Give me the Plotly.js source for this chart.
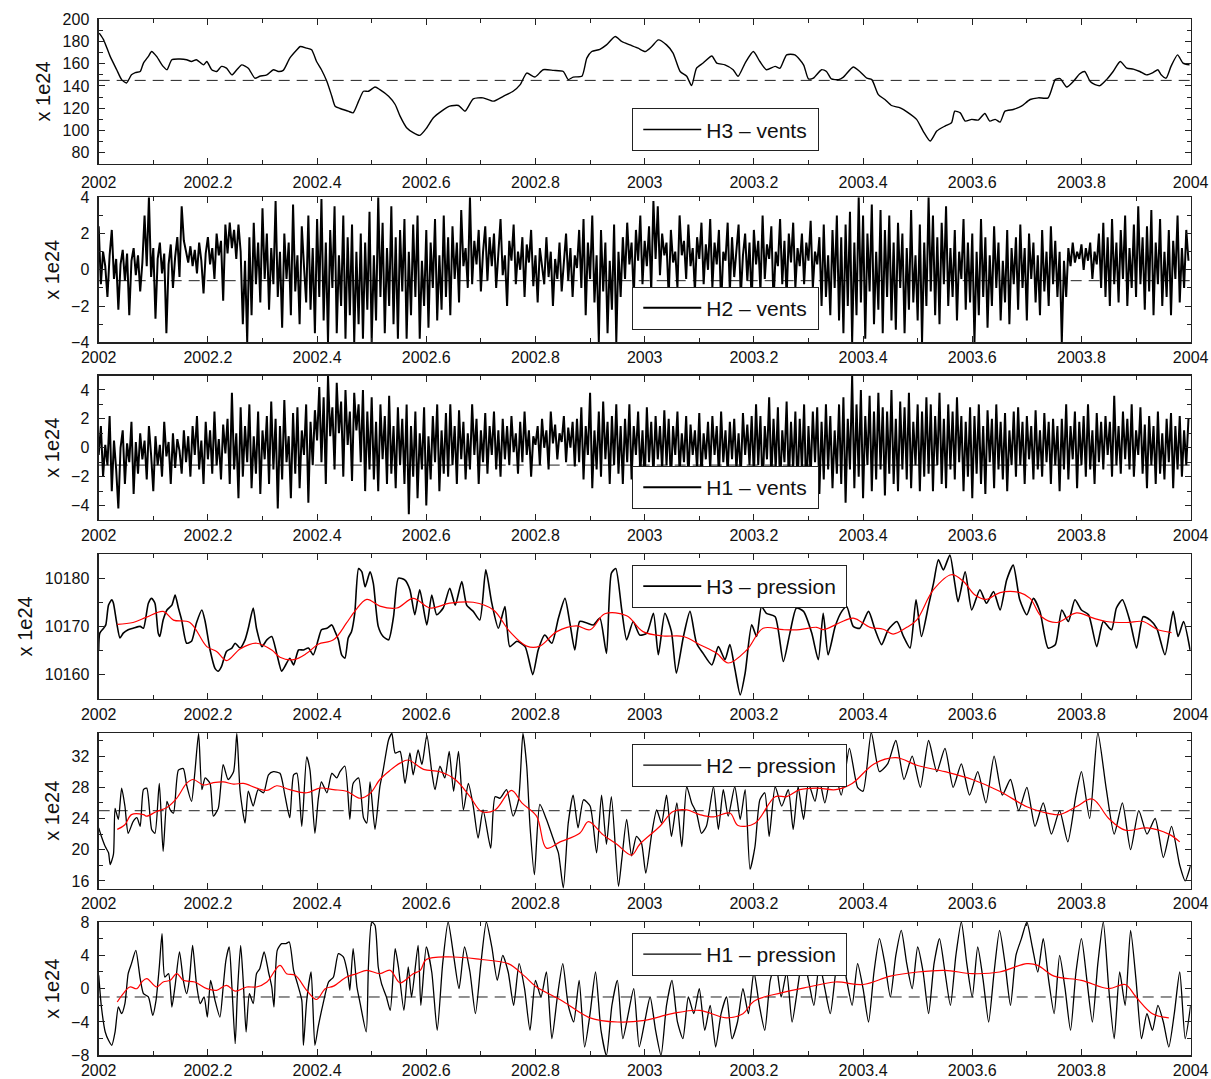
<!DOCTYPE html>
<html>
<head>
<meta charset="utf-8">
<script src="https://cdn.plot.ly/plotly-3.0.1.min.js"></script>
<style>html,body{margin:0;padding:0;background:#fff;}#chart{width:1211px;height:1079px;}</style>
</head>
<body>
<div id="chart"></div>
<script>
// ---------- tick labels ----------
const yearTicks = [2002, 2002.2, 2002.4, 2002.6, 2002.8, 2003, 2003.2, 2003.4, 2003.6, 2003.8, 2004];
const yearTickLabels = ['2002', '2002.2', '2002.4', '2002.6', '2002.8', '2003', '2003.2', '2003.4', '2003.6', '2003.8', '2004'];
const yTitle = 'x 1e24';

// ---------- panel 1 : H3 - vents ----------
const h3VentsYears = [2002.001,2002.009,2002.021,2002.033,2002.042,2002.051,2002.060,2002.067,2002.076,2002.082,2002.091,2002.097,2002.106,2002.118,2002.125,2002.134,2002.149,2002.161,2002.170,2002.179,2002.192,2002.198,2002.207,2002.216,2002.225,2002.234,2002.244,2002.253,2002.262,2002.274,2002.286,2002.295,2002.308,2002.320,2002.329,2002.338,2002.350,2002.363,2002.369,2002.381,2002.390,2002.399,2002.408,2002.418,2002.427,2002.433,2002.442,2002.457,2002.466,2002.476,2002.485,2002.494,2002.506,2002.515,2002.531,2002.543,2002.552,2002.564,2002.576,2002.588,2002.601,2002.613,2002.628,2002.643,2002.659,2002.671,2002.686,2002.704,2002.723,2002.741,2002.759,2002.772,2002.784,2002.799,2002.814,2002.833,2002.851,2002.860,2002.869,2002.885,2002.894,2002.903,2002.918,2002.930,2002.946,2002.958,2002.973,2002.988,2003.001,2003.013,2003.025,2003.040,2003.052,2003.065,2003.077,2003.086,2003.095,2003.107,2003.123,2003.132,2003.147,2003.162,2003.171,2003.184,2003.199,2003.211,2003.223,2003.239,2003.248,2003.260,2003.275,2003.291,2003.300,2003.309,2003.324,2003.333,2003.342,2003.355,2003.364,2003.382,2003.394,2003.407,2003.416,2003.428,2003.440,2003.452,2003.468,2003.483,2003.498,2003.510,2003.523,2003.535,2003.550,2003.562,2003.568,2003.578,2003.587,2003.599,2003.611,2003.623,2003.632,2003.642,2003.651,2003.660,2003.675,2003.690,2003.706,2003.721,2003.739,2003.752,2003.761,2003.773,2003.785,2003.797,2003.806,2003.816,2003.825,2003.834,2003.846,2003.858,2003.871,2003.883,2003.895,2003.907,2003.919,2003.931,2003.940,2003.946,2003.955,2003.964,2003.976,2003.986,2003.998];
const h3VentsValues = [187.5,181.5,166.6,154.6,145.7,142.7,150.0,152.0,153.0,160.6,166.6,171.0,166.6,157.6,154.6,163.6,164.2,163.6,162.0,163.6,159.0,162.0,154.6,153.0,157.6,156.0,150.0,154.6,159.0,156.0,147.0,148.7,150.0,154.6,153.0,154.0,165.0,172.5,175.5,174.0,172.5,162.0,154.6,144.0,130.7,121.8,119.7,117.3,115.8,126.3,135.2,135.2,139.0,136.7,130.7,123.3,112.8,102.4,98.0,95.5,102.4,111.3,117.3,121.8,122.4,117.3,128.4,129.3,126.3,130.7,135.2,141.2,151.6,148.0,154.6,154.0,153.0,145.7,148.0,148.7,165.0,171.0,173.0,177.0,184.5,180.0,177.0,174.0,171.0,175.5,181.5,177.0,169.6,153.0,148.7,140.3,156.0,160.6,167.0,160.6,159.0,154.6,148.7,160.6,171.0,162.0,154.6,157.6,156.0,168.0,168.0,159.0,146.3,147.0,154.6,153.0,146.3,145.7,148.0,157.0,153.0,147.0,145.7,132.2,127.8,122.4,120.3,115.8,109.9,99.4,90.4,99.4,103.9,106.9,117.3,115.8,108.4,109.9,109.3,115.2,108.4,109.9,107.5,117.3,118.8,121.8,127.8,129.3,129.3,145.7,146.6,139.0,144.0,151.0,153.0,144.0,141.2,140.3,145.7,153.0,162.0,156.0,155.2,153.0,150.0,152.0,154.6,150.0,147.0,157.6,168.0,160.6,159.0];
const h3VentsLevel = 145;

// ---------- panels 2 and 3 : regular sampling ----------
const ventStart = 2002;
const ventStep = 0.004;
const h2VentsValues = [
2.4,-0.8,1.0,0.2,-1.5,0.8,2.2,-0.5,0.6,-2.2,0.3,1.1,-0.6,0.9,-2.5,0.5,1.2,-0.3,0.8,-1.2,
0.4,3.0,0.2,4.0,-0.4,1.2,-2.7,0.6,1.5,-0.2,0.9,-3.5,0.3,1.4,-1.0,0.7,1.8,-0.4,3.5,1.6,
1.0,0.4,1.3,0.2,1.1,-0.2,1.5,0.5,-1.3,0.9,1.8,0.3,1.2,-0.5,2.0,0.8,1.6,-1.7,2.5,0.9,
2.6,1.2,2.2,0.6,2.5,1.0,-3.0,0.5,-4.0,1.8,-2.5,2.6,-0.8,1.5,-1.8,3.4,-0.5,2.0,-2.2,1.2,
-0.8,3.8,-1.5,1.0,-3.2,2.0,-0.5,1.5,-2.5,3.6,-1.2,0.8,-3.0,2.4,0.2,-1.8,3.0,-2.2,1.2,-3.5,
2.8,-1.5,3.9,-2.8,1.5,-4.0,2.2,-1.0,3.5,-3.5,0.8,-2.0,3.0,-3.8,1.8,-2.5,2.5,-4.0,1.0,-3.0,
2.0,-3.8,1.5,-2.2,3.2,-4.0,0.8,-2.8,4.0,-1.5,2.6,-3.5,1.2,-2.0,3.5,-3.0,1.8,-3.8,2.2,-1.2,
2.8,-3.8,1.0,-2.5,2.5,-1.5,3.0,-3.8,0.5,-2.0,2.2,-3.2,1.5,-1.0,2.8,-2.8,0.8,-2.2,3.0,-1.5,
1.8,-2.5,2.4,-0.5,1.5,-1.8,3.3,0.2,1.2,-1.0,4.0,-0.8,1.6,0.3,2.2,-1.2,1.0,2.4,-0.6,1.8,
0.2,2.0,-1.0,1.2,2.8,-0.3,0.8,-2.0,1.6,0.5,2.5,-0.8,1.0,0.0,1.8,-1.5,1.4,0.4,2.2,-0.9,
0.8,-1.8,1.2,0.2,-0.8,1.8,-0.4,1.0,-2.0,0.6,-0.5,1.5,-1.2,0.4,2.0,-0.6,1.2,-1.5,0.8,0.1,
2.2,-1.0,2.8,-2.5,1.5,-0.5,3.0,-1.8,0.8,-4.0,2.2,-1.2,1.5,-3.5,0.5,-2.2,2.5,-4.0,1.0,-1.5,
1.8,-0.5,2.6,0.3,1.5,-1.5,2.2,0.5,3.0,-0.8,1.6,0.2,2.4,-1.2,3.8,0.6,3.5,-0.3,2.0,0.8,
1.5,-1.5,2.2,0.4,1.0,-1.0,3.0,0.8,1.6,-0.5,2.5,0.2,1.2,-1.2,1.8,0.6,2.6,-0.8,1.4,0.0,
2.8,-1.0,1.5,0.3,2.2,-2.0,1.0,0.5,2.6,-1.2,1.8,-0.4,1.2,2.5,-1.5,0.8,2.0,-0.6,1.5,-1.8,
2.2,0.3,1.6,-1.2,3.0,-0.5,1.4,0.6,2.4,-1.8,1.0,0.2,2.8,-0.8,1.6,-1.5,2.0,0.4,2.6,-1.0,
1.2,0.2,2.0,-0.8,1.5,0.5,2.7,-1.0,1.0,0.3,1.8,-2.0,2.5,-1.5,0.8,-2.5,2.2,-1.0,3.0,-2.8,
1.8,-3.5,2.5,-2.0,3.2,-4.0,1.5,-2.5,4.0,-1.8,3.0,-3.8,2.0,-1.2,3.6,-3.0,1.0,-2.2,3.3,-3.5,
2.2,-1.5,3.0,-2.8,1.5,-3.3,2.6,-1.0,2.0,-3.5,1.2,-2.2,3.3,-1.8,0.8,-2.8,2.5,-4.0,1.5,-2.0,
4.0,-1.2,3.0,-2.5,1.8,-3.0,2.6,-0.8,3.5,-2.0,1.2,-1.5,2.2,-2.8,1.0,-0.5,2.8,-2.2,1.5,-1.8,
2.0,-4.0,1.0,-2.5,2.8,-1.5,1.8,-3.2,0.8,-2.0,2.4,-1.0,1.5,-2.8,0.5,-1.8,2.2,-3.0,1.2,-0.8,
1.8,-2.2,2.5,-1.0,1.2,-2.8,2.0,-0.5,1.5,-1.8,0.8,-2.5,2.2,-1.2,1.0,-2.0,2.4,-0.8,1.6,-1.5,
1.0,-4.0,0.5,-1.5,1.2,0.2,1.5,0.4,1.0,0.6,1.4,0.0,1.2,0.5,1.5,-0.5,1.0,0.3,2.0,-1.0,
2.6,-1.5,1.8,-2.0,2.8,-0.8,1.5,-1.8,2.2,-0.5,3.0,-2.0,1.2,-1.0,2.5,-1.5,3.5,-0.8,1.8,-2.2,
2.4,-1.2,3.3,-2.5,1.5,-0.8,2.8,-2.0,1.0,-1.5,2.2,-2.5,1.6,-0.5,3.0,-1.8,1.2,-1.0,2.2,0.5];
const h2VentsLevel = -0.6;

const h1VentsValues = [
-0.5,1.5,-2.0,0.2,-1.2,2.2,-3.0,0.5,-1.5,-4.2,0.0,1.2,-2.5,0.3,-1.0,1.8,-3.2,0.4,-1.8,1.0,
-0.8,0.5,-2.2,1.5,-0.5,-3.0,0.8,-1.2,0.2,-2.0,1.8,-0.6,0.4,-2.5,1.0,-1.4,0.6,-0.2,-1.8,1.2,
-1.0,0.8,-2.0,1.5,-0.5,2.2,-1.5,0.5,-2.5,1.8,-0.8,1.2,-1.8,2.5,-1.2,0.6,-2.2,1.6,-0.4,2.0,
-2.5,3.8,-1.5,1.0,-3.5,2.8,-2.0,1.5,-1.0,3.0,-2.8,0.8,-1.8,2.5,-3.2,1.2,-0.8,2.2,-2.5,3.2,
-1.5,2.0,-4.2,1.5,-2.2,3.3,-1.0,0.8,-3.5,2.4,-1.8,2.8,-2.8,1.2,-0.5,3.0,-3.8,1.8,-1.2,2.6,
0.5,4.2,-1.0,3.5,-2.5,5.0,0.8,2.8,-1.5,4.5,1.0,3.2,-2.0,4.0,0.2,2.5,-2.3,3.8,1.2,3.0,
-1.0,4.0,-3.0,2.5,-1.5,3.5,-2.2,1.8,-3.0,3.0,-0.8,2.2,-2.5,3.6,-1.8,1.5,-2.8,2.8,-1.2,2.0,
-2.5,3.0,-4.6,1.5,-2.0,2.5,-3.5,1.0,-1.5,2.8,-4.0,0.8,-2.2,2.2,-1.0,3.0,-3.0,1.2,-1.8,2.4,
-2.0,3.0,-1.2,1.5,-2.5,2.6,-0.8,1.8,-2.2,1.0,-1.5,3.0,-0.5,2.0,-2.5,1.2,-1.0,2.4,-1.8,1.5,
-0.5,2.5,-1.5,1.2,-2.0,2.0,-0.8,1.5,-1.2,2.2,-0.3,1.0,-1.8,1.8,-1.0,2.5,-0.5,1.2,-2.0,0.8,
0.2,1.5,-1.2,2.0,0.0,1.2,-1.5,2.5,0.3,1.6,-0.8,1.0,0.4,2.2,-1.0,1.4,0.0,1.8,-1.3,2.0,
-1.0,2.8,-2.2,1.5,-0.5,3.8,-2.8,1.2,-1.5,2.5,-2.0,3.2,-0.8,1.8,-2.5,2.2,-1.2,3.0,-1.8,1.5,
-2.5,2.0,-1.0,3.0,-2.2,1.5,-0.5,2.5,-1.8,1.2,-2.5,2.8,-1.0,1.8,-2.0,2.2,-0.8,1.5,-1.5,2.6,
-1.2,2.0,-2.5,1.5,-0.5,2.5,-1.8,1.0,-1.0,2.2,-2.2,1.6,-0.5,1.2,-1.5,2.4,-2.0,1.0,-0.8,1.8,
-1.5,2.2,-0.5,1.5,-2.0,2.5,-1.0,1.2,-1.8,1.8,-0.8,2.0,-1.5,1.0,-2.0,2.4,-0.5,1.6,-1.2,2.2,
-2.0,3.0,-1.2,2.2,-3.0,1.5,-0.8,3.5,-2.2,2.0,-1.5,2.8,-2.8,1.2,-1.0,3.2,-2.5,1.8,-1.5,2.5,
-3.0,2.0,-1.5,3.0,-3.5,1.5,-2.0,2.5,-1.0,2.8,-3.2,1.8,-2.2,3.0,-1.5,2.2,-2.8,1.2,-1.8,3.0,
-2.5,3.5,-3.8,2.0,-1.5,5.0,-2.8,3.0,-2.0,4.0,-3.5,2.2,-1.2,3.6,-3.0,2.5,-2.2,3.8,-1.5,2.8,
-3.3,2.5,-1.8,4.0,-2.5,2.0,-3.0,3.2,-1.5,2.8,-2.2,3.8,-2.8,1.8,-1.2,3.0,-3.0,2.5,-2.0,3.5,
-1.8,3.0,-3.0,2.2,-1.2,3.8,-2.5,2.0,-2.8,3.0,-1.5,2.5,-2.2,3.5,-1.0,2.2,-3.0,1.8,-2.0,2.8,
-3.5,2.2,-1.8,3.0,-2.5,1.5,-3.2,2.6,-1.0,2.0,-2.8,3.0,-1.5,1.8,-2.2,2.4,-3.0,1.2,-1.2,2.5,
-2.0,2.8,-1.2,1.8,-2.5,2.2,-0.8,1.5,-2.2,2.6,-1.5,1.2,-2.0,2.4,-1.0,1.8,-2.5,2.0,-1.2,1.5,
-3.0,2.0,-1.5,3.0,-2.2,1.5,-0.8,2.5,-2.8,1.8,-1.2,2.2,-2.0,3.0,-1.5,1.2,-2.5,2.4,-1.0,1.8,
-1.5,2.2,-0.5,1.8,-2.0,3.6,-1.2,1.5,-1.8,2.5,-0.8,2.0,-1.5,3.0,-2.0,1.2,-0.5,2.8,-1.8,1.6,
-2.8,2.2,-1.2,1.5,-2.5,2.5,-1.8,1.0,-2.2,2.0,-1.0,2.4,-2.8,1.5,-1.5,2.2,-2.0,1.2,-1.2,2.0];
const h1VentsLevel = -1.2;

// ---------- panel 4 : H3 - pression ----------
const h3PressYears = [2002.000,2002.002,2002.009,2002.013,2002.018,2002.024,2002.027,2002.033,2002.039,2002.045,2002.054,2002.063,2002.076,2002.082,2002.091,2002.097,2002.103,2002.109,2002.112,2002.118,2002.125,2002.134,2002.140,2002.146,2002.152,2002.161,2002.170,2002.179,2002.189,2002.195,2002.204,2002.213,2002.219,2002.225,2002.234,2002.244,2002.250,2002.259,2002.268,2002.274,2002.283,2002.289,2002.299,2002.308,2002.317,2002.326,2002.335,2002.341,2002.350,2002.357,2002.366,2002.375,2002.384,2002.393,2002.402,2002.408,2002.418,2002.427,2002.433,2002.439,2002.445,2002.451,2002.457,2002.463,2002.469,2002.476,2002.482,2002.488,2002.497,2002.503,2002.512,2002.521,2002.531,2002.540,2002.549,2002.561,2002.570,2002.579,2002.588,2002.601,2002.610,2002.619,2002.631,2002.643,2002.653,2002.665,2002.674,2002.686,2002.698,2002.709,2002.720,2002.732,2002.744,2002.753,2002.766,2002.781,2002.795,2002.805,2002.817,2002.830,2002.842,2002.854,2002.863,2002.872,2002.881,2002.894,2002.906,2002.918,2002.930,2002.939,2002.947,2002.958,2002.967,2002.979,2002.991,2003.004,2003.016,2003.025,2003.037,2003.049,2003.058,2003.071,2003.083,2003.095,2003.107,2003.123,2003.135,2003.147,2003.156,2003.165,2003.175,2003.184,2003.196,2003.205,2003.214,2003.223,2003.239,2003.254,2003.266,2003.278,2003.291,2003.306,2003.318,2003.327,2003.336,2003.349,2003.361,2003.370,2003.382,2003.394,2003.410,2003.422,2003.434,2003.446,2003.462,2003.474,2003.486,2003.497,2003.507,2003.520,2003.529,2003.538,2003.547,2003.559,2003.568,2003.574,2003.587,2003.599,2003.614,2003.626,2003.639,2003.651,2003.663,2003.675,2003.687,2003.700,2003.712,2003.724,2003.739,2003.752,2003.764,2003.776,2003.788,2003.800,2003.813,2003.828,2003.840,2003.855,2003.864,2003.875,2003.889,2003.901,2003.913,2003.926,2003.938,2003.953,2003.968,2003.977,2003.987,2003.999];
const h3PressValues = [10165.1,10168.6,10169.6,10170.3,10174.4,10175.5,10174.8,10170.7,10167.6,10168.6,10169.3,10169.6,10170.0,10169.6,10174.8,10175.8,10174.8,10168.6,10167.9,10171.3,10173.4,10174.4,10176.5,10173.8,10171.3,10166.5,10166.9,10170.7,10173.4,10171.0,10165.1,10161.3,10160.7,10161.7,10164.8,10165.5,10166.5,10165.5,10167.2,10169.6,10173.8,10169.6,10165.8,10167.2,10167.9,10164.4,10160.7,10161.7,10163.4,10162.0,10165.1,10165.1,10165.5,10164.1,10167.2,10169.3,10169.6,10170.3,10168.9,10167.2,10164.1,10163.4,10167.6,10168.9,10172.7,10182.0,10181.3,10178.2,10181.3,10178.9,10170.0,10167.9,10167.2,10172.0,10180.0,10179.6,10177.6,10172.4,10177.6,10170.3,10176.5,10172.4,10173.8,10177.9,10174.4,10179.3,10174.4,10173.1,10171.3,10181.7,10174.8,10169.6,10174.1,10165.8,10166.9,10165.8,10160.0,10165.1,10168.2,10166.5,10171.7,10175.8,10170.7,10165.1,10171.0,10170.7,10170.3,10171.7,10164.4,10181.0,10182.0,10173.4,10167.2,10171.0,10168.2,10168.6,10172.7,10164.1,10172.7,10168.9,10160.3,10167.9,10173.1,10166.5,10164.4,10162.0,10165.8,10163.1,10166.2,10161.3,10155.8,10160.3,10170.3,10167.9,10174.1,10172.7,10172.0,10162.7,10168.6,10173.8,10173.1,10168.6,10163.1,10172.7,10164.1,10170.0,10173.1,10174.1,10170.0,10169.6,10173.1,10169.3,10166.2,10169.3,10171.0,10167.9,10165.5,10175.5,10167.9,10174.4,10178.9,10183.8,10181.7,10184.8,10178.9,10175.1,10181.3,10173.4,10177.6,10174.8,10177.2,10173.4,10179.6,10182.7,10175.5,10172.4,10175.8,10173.1,10165.5,10166.2,10173.4,10171.0,10175.5,10173.4,10172.4,10165.8,10171.0,10169.3,10173.8,10175.5,10171.0,10165.5,10172.0,10171.3,10169.6,10164.1,10173.1,10167.9,10171.0,10165.1];
const h3PressSmoothYears = [2002.034,2002.063,2002.088,2002.118,2002.137,2002.167,2002.198,2002.216,2002.234,2002.259,2002.289,2002.317,2002.332,2002.357,2002.381,2002.402,2002.430,2002.454,2002.469,2002.491,2002.515,2002.546,2002.576,2002.607,2002.643,2002.686,2002.723,2002.753,2002.784,2002.808,2002.839,2002.875,2002.900,2002.927,2002.967,2002.997,2003.034,2003.071,2003.101,2003.132,2003.153,2003.187,2003.217,2003.254,2003.284,2003.315,2003.327,2003.358,2003.382,2003.413,2003.437,2003.455,2003.480,2003.498,2003.529,2003.562,2003.584,2003.605,2003.626,2003.651,2003.687,2003.706,2003.727,2003.755,2003.791,2003.822,2003.846,2003.883,2003.913,2003.938,2003.965];
const h3PressSmoothValues = [10170.4,10170.8,10171.9,10173.1,10171.3,10170.8,10165.8,10164.8,10162.9,10165.3,10166.5,10165.1,10163.6,10163.1,10164.4,10166.3,10167.2,10170.7,10173.1,10175.6,10174.2,10173.8,10175.8,10173.8,10174.8,10175.0,10173.4,10168.9,10165.9,10165.9,10168.9,10170.1,10169.3,10172.6,10172.2,10168.9,10168.0,10167.9,10166.2,10164.4,10162.4,10165.1,10169.6,10169.3,10169.3,10169.8,10169.3,10170.8,10171.7,10169.8,10169.4,10168.4,10169.8,10171.3,10177.6,10180.7,10179.3,10176.5,10175.6,10177.0,10177.0,10175.8,10172.0,10170.8,10172.8,10171.7,10171.0,10170.8,10171.0,10169.4,10168.7];

// ---------- panel 5 : H2 - pression ----------
const h2PressYears = [2002.000,2002.005,2002.012,2002.018,2002.021,2002.027,2002.030,2002.036,2002.042,2002.048,2002.054,2002.063,2002.070,2002.076,2002.082,2002.088,2002.097,2002.103,2002.111,2002.118,2002.125,2002.131,2002.137,2002.146,2002.155,2002.161,2002.170,2002.176,2002.183,2002.189,2002.195,2002.204,2002.210,2002.219,2002.228,2002.237,2002.247,2002.253,2002.259,2002.268,2002.274,2002.283,2002.292,2002.302,2002.311,2002.320,2002.332,2002.341,2002.350,2002.357,2002.363,2002.372,2002.381,2002.387,2002.396,2002.402,2002.408,2002.418,2002.427,2002.436,2002.442,2002.451,2002.460,2002.466,2002.476,2002.485,2002.491,2002.497,2002.506,2002.515,2002.521,2002.531,2002.537,2002.543,2002.552,2002.561,2002.570,2002.576,2002.585,2002.592,2002.601,2002.610,2002.616,2002.625,2002.634,2002.642,2002.650,2002.659,2002.668,2002.677,2002.686,2002.695,2002.704,2002.718,2002.726,2002.735,2002.747,2002.759,2002.769,2002.777,2002.784,2002.790,2002.798,2002.808,2002.820,2002.833,2002.842,2002.851,2002.860,2002.869,2002.878,2002.888,2002.900,2002.912,2002.921,2002.930,2002.939,2002.952,2002.958,2002.967,2002.976,2002.985,2002.994,2003.002,2003.013,2003.022,2003.031,2003.040,2003.049,2003.059,2003.068,2003.077,2003.086,2003.095,2003.104,2003.113,2003.126,2003.135,2003.144,2003.153,2003.165,2003.175,2003.184,2003.193,2003.202,2003.211,2003.220,2003.228,2003.239,2003.251,2003.263,2003.272,2003.281,2003.291,2003.300,2003.312,2003.320,2003.330,2003.345,2003.360,2003.375,2003.390,2003.400,2003.415,2003.430,2003.445,2003.460,2003.475,2003.490,2003.505,2003.520,2003.535,2003.550,2003.565,2003.580,2003.595,2003.610,2003.625,2003.640,2003.655,2003.670,2003.685,2003.700,2003.715,2003.730,2003.745,2003.760,2003.775,2003.790,2003.800,2003.815,2003.830,2003.845,2003.860,2003.875,2003.890,2003.905,2003.920,2003.935,2003.950,2003.965,2003.980,2003.990,2004.000];
const h2PressValues = [22.8,21.7,20.4,19.6,18.1,19.4,25.3,23.9,27.9,25.6,22.1,23.6,24.1,23.0,27.7,27.9,22.6,22.1,28.5,19.8,26.2,25.1,24.7,30.2,30.4,28.3,26.2,29.8,34.9,27.7,29.2,28.5,24.3,25.3,30.9,29.0,30.0,34.9,27.5,23.4,27.5,25.6,27.7,27.3,29.6,30.0,29.8,27.0,24.1,29.6,29.8,23.0,31.9,30.2,22.1,26.4,28.7,27.3,29.8,29.2,30.0,30.7,23.9,28.5,29.2,24.1,23.4,28.7,22.6,28.1,30.2,34.1,34.9,32.4,32.6,28.5,32.4,29.6,32.8,30.9,34.7,30.0,27.7,30.7,29.2,32.6,27.5,32.6,25.1,28.5,25.6,21.5,25.1,20.2,26.8,26.6,27.7,24.3,26.4,34.9,30.7,23.0,16.8,25.8,23.9,21.3,19.6,15.1,23.4,27.0,22.8,26.4,25.6,19.6,27.0,20.7,26.8,15.3,18.7,23.9,19.2,21.7,20.9,17.0,22.1,25.1,23.4,27.0,21.7,26.0,20.4,28.1,26.0,24.7,22.1,23.0,28.1,22.6,27.7,24.3,28.1,23.9,27.7,17.5,20.4,26.4,27.3,21.7,28.1,25.6,27.7,22.6,28.1,23.9,28.5,26.2,29.0,26.0,31.0,27.0,33.0,28.0,27.5,35.0,30.0,31.0,34.0,29.0,32.0,28.0,34.0,30.0,33.0,28.0,31.0,27.0,30.0,26.0,32.0,27.0,29.0,25.0,28.0,23.0,26.0,22.0,25.0,21.0,27.0,30.0,24.0,35.0,28.0,22.0,26.0,20.0,25.0,22.0,24.0,19.0,23.0,18.0,16.0,18.0];
const h2PressSmoothYears = [2002.034,2002.048,2002.060,2002.082,2002.088,2002.106,2002.125,2002.143,2002.161,2002.173,2002.192,2002.210,2002.228,2002.247,2002.265,2002.289,2002.308,2002.326,2002.350,2002.381,2002.405,2002.430,2002.454,2002.479,2002.497,2002.515,2002.534,2002.552,2002.567,2002.595,2002.625,2002.653,2002.680,2002.701,2002.726,2002.756,2002.775,2002.802,2002.820,2002.845,2002.881,2002.897,2002.924,2002.949,2002.976,2002.991,2003.028,2003.052,2003.077,2003.101,2003.126,2003.156,2003.171,2003.202,2003.239,2003.260,2003.284,2003.315,2003.350,2003.380,2003.420,2003.460,2003.500,2003.550,2003.600,2003.650,2003.700,2003.730,2003.760,2003.790,2003.820,2003.850,2003.880,2003.920,2003.960,2003.980];
const h2PressSmoothValues = [22.6,23.2,24.5,24.5,24.3,24.9,25.4,26.6,28.5,29.0,28.3,28.6,28.7,28.4,28.5,27.9,27.6,28.2,27.7,27.3,27.9,27.7,27.5,26.6,27.2,29.0,30.2,31.1,31.5,30.3,30.0,29.0,26.8,24.9,25.1,27.6,26.0,24.3,20.2,21.0,22.1,23.6,21.9,20.7,19.3,20.7,23.0,24.9,25.1,24.5,24.2,24.7,23.1,23.4,26.8,26.8,27.7,27.9,27.7,28.5,31.0,31.8,30.8,30.0,29.0,27.5,25.5,24.8,24.5,25.5,26.5,24.0,22.5,22.8,22.0,21.0];
const h2PressLevel = 25;

// ---------- panel 6 : H1 - pression ----------
const h1PressYears = [2002.000,2002.005,2002.012,2002.018,2002.024,2002.030,2002.036,2002.042,2002.048,2002.054,2002.060,2002.068,2002.076,2002.082,2002.091,2002.099,2002.105,2002.111,2002.116,2002.121,2002.128,2002.134,2002.140,2002.148,2002.155,2002.161,2002.166,2002.172,2002.179,2002.186,2002.193,2002.199,2002.205,2002.213,2002.222,2002.228,2002.233,2002.239,2002.244,2002.250,2002.254,2002.260,2002.265,2002.270,2002.276,2002.283,2002.289,2002.295,2002.303,2002.311,2002.317,2002.321,2002.327,2002.335,2002.343,2002.349,2002.357,2002.364,2002.372,2002.375,2002.381,2002.389,2002.396,2002.402,2002.411,2002.421,2002.430,2002.439,2002.448,2002.457,2002.460,2002.466,2002.473,2002.479,2002.490,2002.494,2002.500,2002.506,2002.512,2002.518,2002.527,2002.534,2002.543,2002.549,2002.559,2002.567,2002.573,2002.585,2002.59,2002.60,2002.61,2002.62,2002.63,2002.64,2002.65,2002.66,2002.67,2002.68,2002.69,2002.70,2002.71,2002.72,2002.73,2002.74,2002.75,2002.76,2002.77,2002.78,2002.79,2002.80,2002.81,2002.82,2002.83,2002.84,2002.85,2002.86,2002.87,2002.88,2002.89,2002.90,2002.91,2002.92,2002.93,2002.94,2002.95,2002.96,2002.97,2002.98,2002.99,2003.00,2003.01,2003.02,2003.03,2003.04,2003.05,2003.06,2003.07,2003.08,2003.09,2003.10,2003.11,2003.12,2003.13,2003.14,2003.15,2003.16,2003.17,2003.18,2003.19,2003.20,2003.21,2003.22,2003.23,2003.24,2003.25,2003.26,2003.27,2003.28,2003.29,2003.30,2003.31,2003.32,2003.33,2003.34,2003.35,2003.36,2003.37,2003.38,2003.39,2003.40,2003.41,2003.42,2003.43,2003.44,2003.45,2003.46,2003.47,2003.48,2003.49,2003.50,2003.51,2003.52,2003.53,2003.54,2003.55,2003.56,2003.57,2003.58,2003.59,2003.60,2003.61,2003.62,2003.63,2003.64,2003.65,2003.66,2003.67,2003.68,2003.69,2003.70,2003.71,2003.72,2003.73,2003.74,2003.75,2003.76,2003.77,2003.78,2003.79,2003.80,2003.81,2003.82,2003.83,2003.84,2003.85,2003.86,2003.87,2003.88,2003.89,2003.90,2003.91,2003.92,2003.93,2003.94,2003.95,2003.96,2003.97,2003.98,2003.99,2004.00];
const h1PressValues = [1.6,-2.2,-5.2,-6.2,-6.8,-5.2,-2.2,-3.0,-1.8,1.8,3.0,4.6,1.2,-0.6,-1.0,-3.2,-1.4,2.6,6.6,1.4,1.8,-2.2,0.4,4.4,1.0,-0.6,1.0,5.2,0.6,-1.8,-1.0,-3.4,1.0,-1.4,-3.4,0.2,3.4,5.0,0.2,-6.6,-0.6,5.2,0.6,-5.2,-0.6,-1.8,1.8,2.4,4.4,2.0,0.2,-2.2,4.6,5.4,5.4,5.6,2.2,0.6,-1.4,-6.8,-1.4,2.0,-6.8,-4.6,-1.8,0.8,1.4,4.2,3.8,1.4,-0.2,4.8,0.2,-1.8,-5.2,2.6,8.0,7.6,2.6,0.6,-1.0,-2.6,4.8,2.6,-2.6,2.6,-1.0,5.2,-2,5,2,-5,3,8,4,0,5,2,-3,3,8,5,1,4,2,-2,3,0,-5,1,-1,2,-6,-1,3,-2,-4,1,-7,-3,2,-5,-8,-2,1,-6,-3,0,-7,-4,-1,-5,-8,-2,1,-4,-6,-1,-3,0,-5,-2,-7,-3,-1,-6,-4,0,-3,2,-2,-5,1,3,-1,2,-4,0,4,1,-2,3,0,-3,2,5,1,-2,3,0,-4,2,6,3,-1,4,7,3,0,5,2,-3,3,6,2,-2,4,8,3,-1,5,1,-4,2,7,3,-2,4,6,8,5,2,6,1,-3,4,0,-5,2,6,1,-4,3,8,0,-6,2,-2,7,1,-6,-3,-5,-2,-4,-7,-3,2,-6,-2];
const h1PressSmoothYears = [2002.034,2002.045,2002.057,2002.070,2002.079,2002.088,2002.106,2002.118,2002.131,2002.143,2002.155,2002.176,2002.198,2002.216,2002.234,2002.250,2002.271,2002.289,2002.308,2002.332,2002.344,2002.360,2002.381,2002.399,2002.415,2002.430,2002.454,2002.473,2002.491,2002.515,2002.534,2002.552,2002.576,2002.589,2002.600,2002.650,2002.700,2002.750,2002.780,2002.800,2002.850,2002.900,2002.950,2003.000,2003.050,2003.100,2003.150,2003.180,2003.200,2003.250,2003.300,2003.350,2003.400,2003.450,2003.500,2003.550,2003.600,2003.650,2003.700,2003.720,2003.750,2003.800,2003.850,2003.880,2003.900,2003.930,2003.960];
const h1PressSmoothValues = [-1.6,-0.6,0.2,0.0,0.8,1.2,0.2,0.8,1.0,1.8,1.0,0.8,0.0,-0.2,0.4,-0.3,0.2,0.2,0.8,2.8,1.8,1.6,-0.2,-1.3,0.0,0.3,1.4,1.8,2.2,1.8,2.2,0.7,1.8,2.2,3.5,3.8,3.5,3.0,1.5,0.3,-1.5,-3.5,-4.0,-3.8,-3.0,-2.6,-3.5,-3.0,-1.5,-0.5,0.2,0.8,0.5,1.5,2.0,2.2,1.8,2.0,3.0,2.8,1.5,1.0,0.0,0.5,-1.0,-3.0,-3.5];
const h1PressLevel = -1;

// ---------- layout helpers ----------
const FONT = 'Liberation Sans, Arial, Helvetica, sans-serif';
const xDomain = [0.0815, 0.9832];
const yDomains = [[0.84829, 0.98211], [0.68276, 0.81715], [0.51807, 0.65199], [0.35246, 0.48656], [0.17637, 0.32094], [0.02196, 0.14550]];
const yRanges = [[70, 200], [-4, 4], [-5, 5], [10155, 10185], [15, 35], [-8, 8]];
const yTickVals = [[80, 100, 120, 140, 160, 180, 200], [-4, -2, 0, 2, 4], [-4, -2, 0, 2, 4], [10160, 10170, 10180], [16, 20, 24, 28, 32], [-8, -4, 0, 4, 8]];
const yTickText = [['80', '100', '120', '140', '160', '180', '200'], ['\u22124', '\u22122', '0', '2', '4'], ['\u22124', '\u22122', '0', '2', '4'], ['10160', '10170', '10180'], ['16', '20', '24', '28', '32'], ['\u22128', '\u22124', '0', '4', '8']];
const yMinorStep = [10, 1, 1, 5, 2, 2];
const xLabelStandoff = [4, 0, 1, 1, 0, 0];
const legendNames = ['H3 \u2013 vents', 'H2 \u2013 vents', 'H1 \u2013 vents', 'H3 \u2013 pression', 'H2 \u2013 pression', 'H1 \u2013 pression'];
const legendTops = [0.89963, 0.73429, 0.56812, 0.47637, 0.31047, 0.13531];
const legendEntryWidths = [107, 107, 107, 135, 135, 135];

const ventTimes = (vals) => vals.map((_, i) => ventStart + i * ventStep);

const seriesX = [h3VentsYears, ventTimes(h2VentsValues), ventTimes(h1VentsValues), h3PressYears, h2PressYears, h1PressYears];
const seriesY = [h3VentsValues, h2VentsValues, h1VentsValues, h3PressValues, h2PressValues, h1PressValues];
const smoothX = [null, null, null, h3PressSmoothYears, h2PressSmoothYears, h1PressSmoothYears];
const smoothY = [null, null, null, h3PressSmoothValues, h2PressSmoothValues, h1PressSmoothValues];
const levels = [h3VentsLevel, h2VentsLevel, h1VentsLevel, null, h2PressLevel, h1PressLevel];
const lineWidths = [1.4, 2.0, 2.0, 1.6, 1.3, 1.3];
const lineShapes = ['spline', 'linear', 'linear', 'spline', 'spline', 'spline'];

const traces = [];
const layout = {
  width: 1211, height: 1079,
  margin: {l: 0, r: 0, t: 0, b: 0},
  paper_bgcolor: '#fff', plot_bgcolor: '#fff',
  showlegend: true,
  font: {family: FONT, color: '#111'}
};

for (let i = 0; i < 6; i++) {
  const n = i === 0 ? '' : String(i + 1);
  const xa = 'x' + n, ya = 'y' + n;
  const lg = 'legend' + n;
  if (levels[i] !== null) {
    traces.push({x: [2002, 2004], y: [levels[i], levels[i]], xaxis: xa, yaxis: ya, mode: 'lines',
      line: {color: '#222', width: 1, dash: '11px,7px'}, showlegend: false, hoverinfo: 'skip'});
  }
  traces.push({x: seriesX[i], y: seriesY[i], xaxis: xa, yaxis: ya, mode: 'lines', name: legendNames[i],
    legend: lg, line: {color: '#000', width: lineWidths[i], shape: lineShapes[i], smoothing: 0.6}, showlegend: true});
  if (smoothX[i]) {
    traces.push({x: smoothX[i], y: smoothY[i], xaxis: xa, yaxis: ya, mode: 'lines',
      line: {color: '#ff0000', width: 1.2, shape: 'spline'}, showlegend: false});
  }
  layout['xaxis' + n] = {
    anchor: ya, domain: xDomain, range: [2002, 2004],
    tickmode: 'array', tickvals: yearTicks, ticktext: yearTickLabels,
    ticks: 'inside', ticklen: 6, tickwidth: 1, tickcolor: '#222',
    showline: true, linecolor: '#222', linewidth: 1.2, mirror: 'ticks',
    showgrid: false, zeroline: false, ticklabelstandoff: xLabelStandoff[i],
    tickfont: {family: FONT, size: 16, color: '#111'},
    minor: {dtick: 0.1, tick0: 2002, ticks: 'inside', ticklen: 4, tickcolor: '#222', showgrid: false}
  };
  layout['yaxis' + n] = {
    anchor: xa, domain: yDomains[i], range: yRanges[i],
    tickmode: 'array', tickvals: yTickVals[i], ticktext: yTickText[i],
    ticks: 'inside', ticklen: 6, tickwidth: 1, tickcolor: '#222',
    showline: true, linecolor: '#222', linewidth: 1.2, mirror: 'ticks',
    showgrid: false, zeroline: false, ticklabelstandoff: 5,
    tickfont: {family: FONT, size: 16, color: '#111'},
    minor: {dtick: yMinorStep[i], tick0: 0, ticks: 'inside', ticklen: 4, tickcolor: '#222', showgrid: false},
    title: {text: yTitle, standoff: 6, font: {family: FONT, size: 20, color: '#111'}}
  };
  layout[lg] = {
    x: 0.5221, xanchor: 'left', xref: 'paper',
    y: legendTops[i], yanchor: 'top', yref: 'paper',
    orientation: 'h', entrywidth: legendEntryWidths[i], entrywidthmode: 'pixels',
    bgcolor: '#fff', bordercolor: '#222', borderwidth: 1,
    font: {family: FONT, size: 21, color: '#111'},
    itemwidth: 58, indentation: 5
  };
}

Plotly.newPlot('chart', traces, layout, {staticPlot: true, displayModeBar: false});
</script>
</body>
</html>
